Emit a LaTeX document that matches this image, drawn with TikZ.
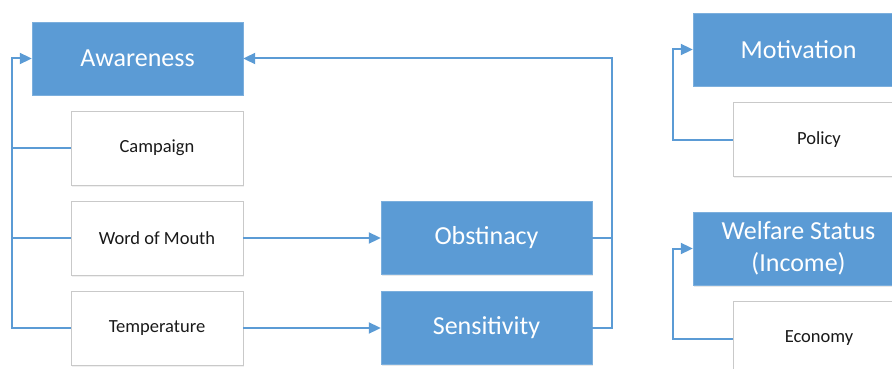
\documentclass[tikz,border=0pt]{standalone}
\usepackage{fontspec}
\setmainfont{Carlito}
\usetikzlibrary{arrows.meta,shadows}

\definecolor{boxblue}{HTML}{5B9BD5}
\definecolor{lineblue}{HTML}{5B9BD5}
\definecolor{boxgrey}{HTML}{C9C9C9}

\begin{document}
\begin{tikzpicture}[x=1pt,y=-1pt,
    mainbox/.style={draw=boxblue!80!white, fill=boxblue, text=white, minimum width=211pt, minimum height=73pt, inner sep=0pt, align=center, font=\fontsize{26}{32}\selectfont, drop shadow={opacity=0.18, shadow xshift=1pt, shadow yshift=-1.5pt}},
    factor/.style={draw=boxgrey, fill=white, text=black!90, minimum width=172pt, minimum height=74pt, inner sep=0pt, font=\fontsize{18.5}{22}\selectfont, drop shadow={opacity=0.12, shadow xshift=1pt, shadow yshift=-1.5pt}},
    link/.style={draw=lineblue, line width=2pt},
    arr/.style={link, -{Triangle[length=12pt,width=11pt]}}]
            \useasboundingbox (0,0) rectangle (892,369);
            \clip (0,0) rectangle (892,369);

            % left block
            \node[mainbox] (aware) at (137.5,58.5) {Awareness};
            \node[factor] (campaign) at (157,148) {Campaign};
            \node[factor] (mouth) at (157,238) {Word of Mouth};
            \node[factor] (temp) at (157,328) {Temperature};
            \node[mainbox] (obst) at (486.5,237.5) {Obstinacy};
            \node[mainbox] (sens) at (486.5,327.5) {Sensitivity};

            % right block
            \node[mainbox] (motiv) at (798.5,49.5) {Motivation};
            \node[factor] (policy) at (819,139.5) {Policy};
            \node[mainbox] (welfare) at (798.5,248.5) {Welfare Status\\(Income)};
            \node[factor] (economy) at (819,338.5) {Economy};

            \coordinate (lbus) at (12,0);
            \coordinate (rbus) at (612,0);
            \coordinate (mbus) at (673,0);

            \draw[arr] (temp.west) -- (temp.west -| lbus) |- (aware.west);
            \draw[link] (campaign.west) -- (campaign.west -| lbus);
            \draw[link] (mouth.west) -- (mouth.west -| lbus);

            \draw[arr] (mouth.east) -- (mouth.east -| obst.west);
            \draw[arr] (temp.east) -- (temp.east -| sens.west);

            \draw[arr] (sens.east) -- (sens.east -| rbus) |- (aware.east);
            \draw[link] (obst.east) -- (obst.east -| rbus);

            \draw[arr] (policy.west) -- (policy.west -| mbus) |- (motiv.west);
            \draw[arr] (economy.west) -- (economy.west -| mbus) |- (welfare.west);
\end{tikzpicture}
\end{document}
